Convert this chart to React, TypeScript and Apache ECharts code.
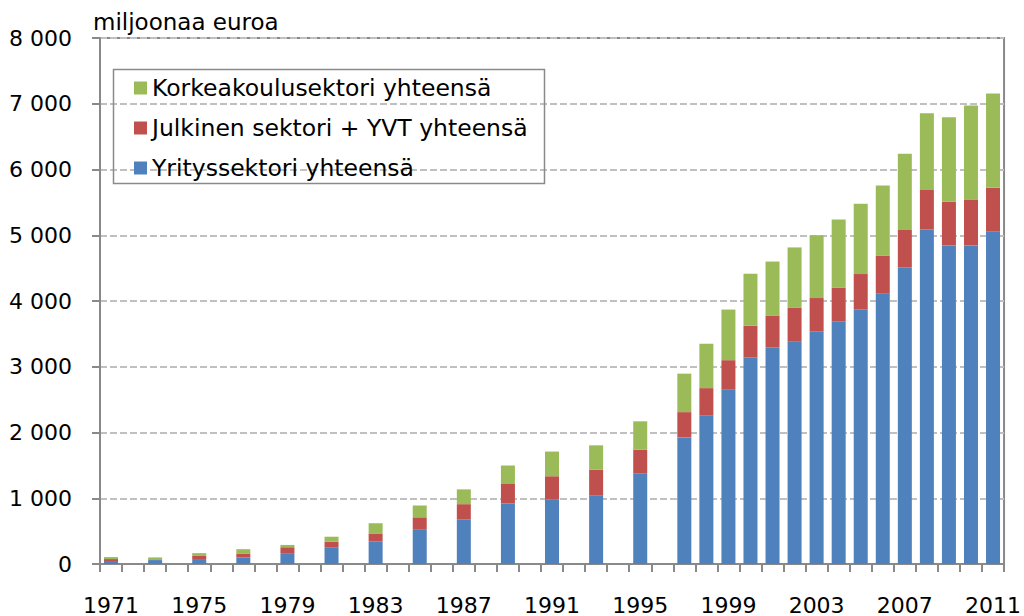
import React, { useEffect, useRef } from "react";
import * as echarts from "echarts";

const years = [
  "1971", "1972", "1973", "1974", "1975", "1976", "1977", "1978", "1979", "1980",
  "1981", "1982", "1983", "1984", "1985", "1986", "1987", "1988", "1989", "1990",
  "1991", "1992", "1993", "1994", "1995", "1996", "1997", "1998", "1999", "2000",
  "2001", "2002", "2003", "2004", "2005", "2006", "2007", "2008", "2009", "2010", "2011",
];

const yritys = [
  45, null, 60, null, 75, null, 100, null, 165, null,
  255, null, 345, null, 530, null, 680, null, 920, null,
  980, null, 1040, null, 1375, null, 1925, 2255, 2650, 3140,
  3290, 3380, 3535, 3685, 3870, 4110, 4515, 5085, 4845, 4845, 5060,
];

const julkinen = [
  30, null, 0, null, 55, null, 60, null, 90, null,
  85, null, 120, null, 180, null, 230, null, 295, null,
  355, null, 395, null, 365, null, 385, 420, 450, 485,
  490, 515, 510, 520, 540, 580, 565, 605, 665, 700, 665,
];

const korkeakoulu = [
  30, null, 40, null, 35, null, 65, null, 35, null,
  75, null, 155, null, 180, null, 225, null, 285, null,
  375, null, 370, null, 430, null, 585, 675, 770, 790,
  820, 920, 955, 1035, 1070, 1065, 1160, 1165, 1285, 1430, 1430,
];

const seriesNames = [
  "Yrityssektori yhteensä",
  "Julkinen sektori + YVT yhteensä",
  "Korkeakoulusektori yhteensä",
];
const legendOrder = [seriesNames[2], seriesNames[1], seriesNames[0]];
const colors = ["#4f81bd", "#c0504d", "#9bbb59"];
const unitLabel = "miljoonaa euroa";

const FONT = "DejaVu Sans";
const AXIS = "#898989";

function fmt(v: number): string {
  if (v >= 1000) {
    const th = Math.floor(v / 1000);
    const rest = String(v % 1000).padStart(3, "0");
    return th + " " + rest;
  }
  return String(v);
}

export default function App() {
  const ref = useRef<HTMLDivElement>(null);
  useEffect(() => {
    document.body.style.margin = "0";
    if (!ref.current) return;
    const chart = echarts.init(ref.current, null, { renderer: "svg" });
    const data = [yritys, julkinen, korkeakoulu];
    chart.setOption({
      animation: false,
      backgroundColor: "#ffffff",
      textStyle: { fontFamily: FONT },
      grid: {
        left: 100,
        top: 38,
        right: 18,
        bottom: 52,
        show: true,
        borderColor: AXIS,
        borderWidth: 2,
      },
      legend: {
        orient: "vertical",
        left: 134,
        top: 76,
        padding: 0,
        itemGap: 16,
        itemWidth: 13,
        itemHeight: 13,
        icon: "rect",
        data: legendOrder,
        textStyle: { fontFamily: FONT, fontSize: 23.5, color: "#000" },
      },
      graphic: [
        {
          type: "rect",
          shape: { x: 113.5, y: 69.5, width: 431, height: 114 },
          style: { fill: "none", stroke: "#8a8a8a", lineWidth: 1.5 },
          z: 10,
        },
        {
          type: "text",
          x: 93,
          y: 22,
          style: {
            text: unitLabel,
            fontFamily: FONT,
            fontSize: 23,
            fill: "#000",
            verticalAlign: "middle",
          },
        },
      ],
      xAxis: {
        type: "category",
        data: years,
        boundaryGap: true,
        axisLine: { lineStyle: { color: AXIS, width: 2 } },
        axisTick: {
          show: true,
          interval: 0,
          length: 8,
          lineStyle: { color: AXIS, width: 2 },
        },
        axisLabel: {
          interval: 3,
          margin: 30,
          fontFamily: FONT,
          fontSize: 22,
          color: "#000",
        },
      },
      yAxis: {
        type: "value",
        min: 0,
        max: 8000,
        interval: 1000,
        axisLine: { show: true, lineStyle: { color: AXIS, width: 2 } },
        axisTick: { show: true, length: 8, lineStyle: { color: AXIS, width: 2 } },
        axisLabel: {
          margin: 28,
          fontFamily: FONT,
          fontSize: 22,
          color: "#000",
          formatter: (v: number) => fmt(v),
        },
        splitLine: {
          show: true,
          lineStyle: { color: "#c0c0c0", width: 2, type: [7, 3] },
        },
      },
      series: seriesNames.map((name, i) => ({
        name,
        type: "bar",
        stack: "total",
        barWidth: 14,
        data: data[i],
        itemStyle: { color: colors[i] },
      })),
    });
    return () => chart.dispose();
  }, []);
  return (
    <div
      ref={ref}
      style={{ position: "absolute", left: 0, top: 0, width: 1024, height: 616 }}
    />
  );
}
